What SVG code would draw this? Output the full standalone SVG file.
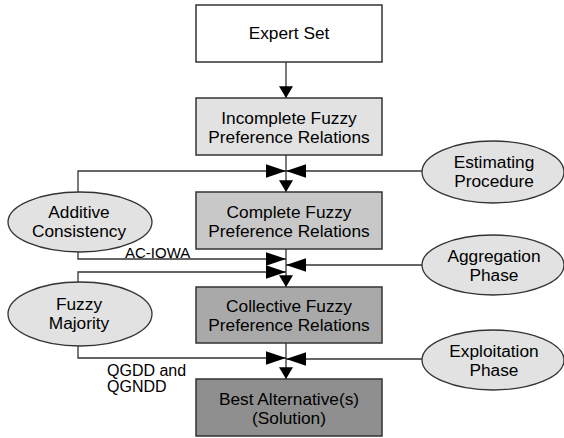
<svg xmlns="http://www.w3.org/2000/svg" width="564" height="438" viewBox="0 0 564 438">
<style>
.box{stroke:#333;stroke-width:1.5}
.ell{fill:#e2e2e2;stroke:#333;stroke-width:1.3}
text{font-family:"Liberation Sans",Arial,sans-serif;font-size:17.3px;fill:#000;text-anchor:middle}
.lbl{font-size:15px;text-anchor:start}
.lbl2{font-size:16px;text-anchor:start}
.con path{fill:none;stroke:#333;stroke-width:1.3}
</style>
<defs>
<marker id="arrD" markerUnits="userSpaceOnUse" markerWidth="12" markerHeight="14" refX="11" refY="6.5" orient="auto" viewBox="0 0 11 13">
<path d="M0,0 L11,6.5 L0,13 Z" fill="#000"/>
</marker>
<marker id="arrH" markerUnits="userSpaceOnUse" markerWidth="20" markerHeight="14" refX="19" refY="6.5" orient="auto" viewBox="0 0 19 13">
<path d="M0,0 L19,6.5 L0,13 Z" fill="#000"/>
</marker>
</defs>
<rect width="564" height="438" fill="#fff"/>
<g class="con">
<path d="M286 62 V98" marker-end="url(#arrD)"/>
<path d="M286 155 V192" marker-end="url(#arrD)"/>
<path d="M286 249 V287" marker-end="url(#arrD)"/>
<path d="M286 343 V379" marker-end="url(#arrD)"/>
<path d="M78 192 V171 H286" marker-end="url(#arrH)"/>
<path d="M422 171 H286" marker-end="url(#arrH)"/>
<path d="M78 252 V259 H286" marker-end="url(#arrH)"/>
<path d="M78 282 V272 H286" marker-end="url(#arrH)"/>
<path d="M422 265 H286" marker-end="url(#arrH)"/>
<path d="M78 346 V358 H286" marker-end="url(#arrH)"/>
<path d="M422 359 H286" marker-end="url(#arrH)"/>
</g>
<g id="expert"><rect class="box" x="196" y="5" width="186" height="57" fill="#fff"/><text x="289" y="39">Expert Set</text></g>
<g id="incomplete"><rect class="box" x="196" y="98" width="186" height="57" fill="#e2e2e2"/><text x="289" y="124">Incomplete Fuzzy</text><text x="289" y="143">Preference Relations</text></g>
<g id="complete"><rect class="box" x="196" y="192" width="186" height="57" fill="#c8c8c8"/><text x="289" y="218">Complete Fuzzy</text><text x="289" y="237">Preference Relations</text></g>
<g id="collective"><rect class="box" x="196" y="287" width="186" height="56" fill="#a9a9a9"/><text x="289" y="312">Collective Fuzzy</text><text x="289" y="331">Preference Relations</text></g>
<g id="best"><rect class="box" x="196" y="379" width="186" height="57" fill="#8f8f8f"/><text x="289" y="405">Best Alternative(s)</text><text x="289" y="424">(Solution)</text></g>
<g id="additive"><ellipse class="ell" cx="80" cy="222" rx="72" ry="30"/><text x="79" y="218">Additive</text><text x="79" y="237">Consistency</text></g>
<g id="fuzzymaj"><ellipse class="ell" cx="80" cy="314" rx="72" ry="32"/><text x="79" y="310">Fuzzy</text><text x="79" y="329">Majority</text></g>
<g id="estimating"><ellipse class="ell" cx="493" cy="172" rx="71" ry="31"/><text x="494" y="168">Estimating</text><text x="494" y="187">Procedure</text></g>
<g id="aggregation"><ellipse class="ell" cx="493" cy="265" rx="71" ry="30"/><text x="494" y="262">Aggregation</text><text x="494" y="281">Phase</text></g>
<g id="exploitation"><ellipse class="ell" cx="493" cy="360" rx="71" ry="30"/><text x="494" y="357">Exploitation</text><text x="494" y="376">Phase</text></g>
<text class="lbl" x="125" y="258">AC-IOWA</text>
<text class="lbl2" x="107" y="376">QGDD and</text>
<text class="lbl2" x="107" y="392">QGNDD</text>
</svg>
